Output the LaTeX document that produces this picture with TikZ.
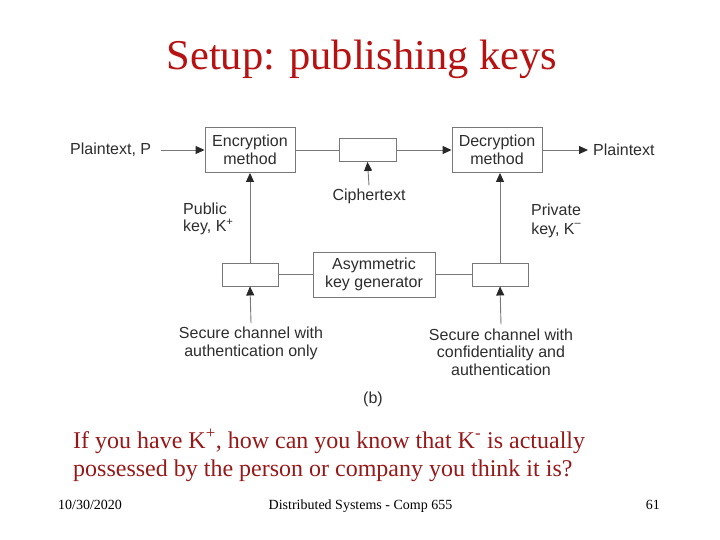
\documentclass[tikz,border=0pt]{standalone}
\usepackage{fontspec}
\setmainfont{Liberation Serif}
\newfontfamily\dsf{Liberation Sans}
\usetikzlibrary{arrows.meta}
\definecolor{titlered}{RGB}{182,18,18}
\definecolor{qred}{RGB}{150,24,24}
\definecolor{lingray}{RGB}{120,120,120}
\definecolor{txtgray}{RGB}{45,45,45}
\begin{document}
\begin{tikzpicture}[x=1pt,y=-1pt,
  box/.style={draw=lingray,line width=0.9pt,fill=white,inner sep=0pt,align=center,
    font=\dsf\fontsize{16}{18}\selectfont,text=txtgray},
  lbl/.style={inner sep=0pt,align=center,font=\dsf\fontsize{16}{17.5}\selectfont,text=txtgray},
  conn/.style={draw=lingray,line width=0.9pt},
  arr/.style={conn,-{Triangle[length=9pt,width=8pt,color=txtgray!90!black]}},
  qtext/.style={anchor=base west,inner sep=0pt,text=qred,font=\fontsize{24}{28}\selectfont},
  foot/.style={inner sep=0pt,font=\fontsize{14}{16}\selectfont}]
\useasboundingbox (0,0) rectangle (720,540);
% title
\node[anchor=base,inner sep=0pt,font=\fontsize{42.5}{46}\selectfont,text=titlered] (title) at (362,70) {Setup: publishing keys};
% boxes
\node[box,minimum width=90pt,minimum height=45pt] (enc) at (250,150) {Encryption\\method};
\node[box,minimum width=57pt,minimum height=23pt] (cbox) at (367.5,150) {};
\node[box,minimum width=90pt,minimum height=45pt] (dec) at (497,150) {Decryption\\method};
\node[box,minimum width=122pt,minimum height=45pt] (asym) at (374,274.5) {Asymmetric\\key generator};
\node[box,minimum width=56pt,minimum height=23pt] (lbox) at (250,274.5) {};
\node[box,minimum width=56pt,minimum height=23pt] (rbox) at (500,274.5) {};
% labels
\node[lbl,anchor=west] (pp) at (70,150) {Plaintext, P};
\node[lbl,anchor=west] (ptxt) at (593,150) {Plaintext};
\node[lbl] (ctext) at (369,196) {Ciphertext};
\node[lbl,anchor=west,align=left] (pub) at (183,219) {Public\\key, K\smash{\textsuperscript{+}}};
\node[lbl,font=\dsf\fontsize{16}{18.5}\selectfont] (priv) at (556,221) {Private\\key, K\smash{\raisebox{0.5em}{\fontsize{11}{11}\selectfont\textendash}}};
\node[lbl] (sl) at (251,343.5) {Secure channel with\\authentication only};
\node[lbl] (sr) at (501,352) {Secure channel with\\confidentiality and\\authentication};
\node[lbl] (b) at (373,399) {(b)};
% connectors
\coordinate (ppa) at ([xshift=10pt]pp.east);
\draw[arr] (ppa) -- (ppa -| enc.west);
\draw[conn] (enc.east) -- (cbox.west);
\draw[arr] (cbox.east) -- (dec.west);
\draw[arr] (dec.east) -- ([xshift=-5pt]ptxt.west);
\draw[arr] ([yshift=3pt]ctext.north) -- (cbox.south);
\draw[arr] (lbox.north) -- (lbox.north |- enc.south);
\draw[arr] (rbox.north) -- (rbox.north |- dec.south);
\draw[conn] (lbox.east) -- (asym.west);
\draw[conn] (asym.east) -- (rbox.west);
\draw[arr] ([yshift=4pt]sl.north) -- (lbox.south);
\draw[arr] ([yshift=4pt]sr.north) -- (rbox.south);
% bottom text
\node[qtext] (q1) at (73,448) {If you have K\textsuperscript{+}, how can you know that K\textsuperscript{-} is actually};
\node[qtext] (q2) at (73,476) {possessed by the person or company you think it is?};
% footer
\node[foot,anchor=base west] (date) at (58,509) {10/30/2020};
\node[foot,anchor=base] (course) at (360.5,509) {Distributed Systems - Comp 655};
\node[foot,anchor=base east] (pg) at (660,509) {61};
\end{tikzpicture}
\end{document}
